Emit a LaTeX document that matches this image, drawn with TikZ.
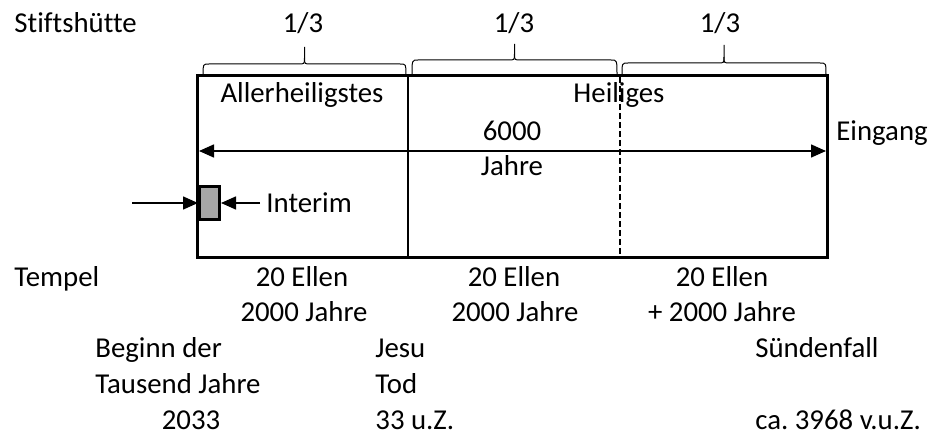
\documentclass[tikz,border=0pt]{standalone}
\usepackage{fontspec}
\setmainfont{Carlito}[Ligatures=NoCommon]
\usepackage{tikz}
\usetikzlibrary{calc,arrows.meta,positioning}

\frenchspacing
\definecolor{kasten}{RGB}{166,166,166}
\tikzset{
  txt/.style={inner sep=0pt,anchor=base,font=\fontsize{14.4}{18}\selectfont},
  ltxt/.style={txt,anchor=base west},
  pfeil/.style={line width=0.75pt,-{Triangle[length=7.5pt,width=6.5pt]}},
  klammerlinie/.style={line width=0.5pt}
}
% geschweifte Klammer: x links, x rechts, y unten, y flach, y spitze
\newcommand{\klammer}[5]{%
  \pgfmathsetmacro\km{(#1+#2)/2}
  \draw[klammerlinie] (#1,#3) .. controls (#1,#4) .. (#1+6,#4) -- (\km-6,#4) .. controls (\km,#4) .. (\km,#4-6) -- (\km,#5);
  \draw[klammerlinie] (#2,#3) .. controls (#2,#4) .. (#2-6,#4) -- (\km+6,#4) .. controls (\km,#4) .. (\km,#4-6);
}

\begin{document}
\begin{tikzpicture}[x=0.5pt,y=-0.5pt]
        \useasboundingbox (0,0) rectangle (939,438);
        %\draw[red] (0,0) rectangle (939,438);

        % Zelt
        \draw[line width=1.5pt] (197,76) rectangle (827,258);
        \draw[line width=1.2pt] (408,76) -- (408,258);
        \draw[line width=0.6pt,dash pattern=on 3pt off 1.5pt] (620,77) -- (620,257);

        % Klammern oben
        \klammer{203}{406}{75}{64}{47}
        \klammer{412}{617}{75}{60}{44}
        \klammer{622}{826}{75}{63}{45}

        \node[ltxt] (stift) at (14,33) {Stiftshütte};
        \node[txt] (dritt1) at (303,33) {1/3};
        \node[txt] (dritt2) at (514,33) {1/3};
        \node[txt] (dritt3) at (720,33) {1/3};

        \node[txt] (allerh) at (302,103) {Allerheiligstes};
        \node[txt] (heilig) at (619,103) {Heiliges};

        % 6000 Jahre
        \coordinate (li) at (199,151);
        \coordinate (re) at (826,151);
        \draw[pfeil,{Triangle[length=7.5pt,width=6.5pt]}-{Triangle[length=7.5pt,width=6.5pt]}] (li) -- (re);
        \node[txt] (sechs) at (512,141) {6000};
        \node[txt] (jahre) at (512,176) {Jahre};
        \node[ltxt] (eingang) at (836,141) {Eingang};

        % Interim
        \node[draw,line width=1.5pt,fill=kasten,minimum width=10pt,minimum height=16.5pt,inner sep=0pt] (interim) at (209.5,203) {};
        \coordinate (vonli) at (132,203);
        \coordinate (vonre) at (260,203);
        \draw[pfeil] (vonli) -- (interim.west);
        \draw[pfeil] (vonre) -- (interim.east);
        \node[ltxt] (interimtxt) at (266,213) {Interim};

        % Tempel
        \node[ltxt] (tempel) at (14,287) {Tempel};
        \node[txt] (ellen1) at (302,287) {20 Ellen};
        \node[txt] (ellen2) at (514,287) {20 Ellen};
        \node[txt] (ellen3) at (722,287) {20 Ellen};
        \node[txt] (jahre1) at (304,322) {2000 Jahre};
        \node[txt] (jahre2) at (515,322) {2000 Jahre};
        \node[txt] (jahre3) at (722,322) {+ 2000 Jahre};

        % Zeitpunkte
        \node[ltxt] (beginn) at (95,358) {Beginn der};
        \node[ltxt] (tausend) at (95,394) {Tausend Jahre};
        \node[txt] (jahr2033) at (191,430) {2033};
        \node[ltxt] (jesu) at (375,358) {Jesu};
        \node[ltxt] (tod) at (375,394) {Tod};
        \node[ltxt] (jahr33) at (375,430) {33 u.Z.};
        \node[ltxt] (suende) at (755,358) {Sündenfall};
        \node[ltxt] (jahr3968) at (755,430) {ca. 3968 v.u.Z.};
\end{tikzpicture}
\end{document}
